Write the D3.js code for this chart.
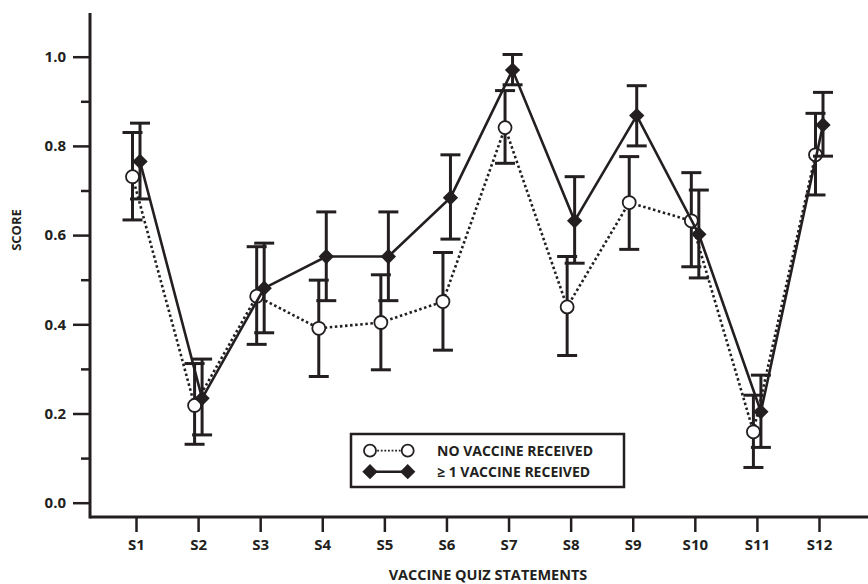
<!DOCTYPE html>
<html>
<head>
<meta charset="utf-8">
<script src="https://cdn.jsdelivr.net/npm/d3@7"></script>
<style>
  body { margin: 0; background: #fff; }
  svg text { font-family: "Open Sans", Lato, sans-serif; font-weight: bold; fill: #231f20; }
</style>
</head>
<body>
<svg id="chart" width="868" height="584"></svg>
<script>
// statements on the x axis
var statements = ["S1","S2","S3","S4","S5","S6","S7","S8","S9","S10","S11","S12"];

// no vaccine received: mean, lower and upper error
var noVacMean = [0.731, 0.218, 0.463, 0.391, 0.404, 0.451, 0.841, 0.439, 0.673, 0.632, 0.159, 0.780];
var noVacLow  = [0.634, 0.131, 0.355, 0.283, 0.298, 0.342, 0.761, 0.330, 0.568, 0.529, 0.079, 0.690];
var noVacHigh = [0.830, 0.312, 0.574, 0.499, 0.511, 0.561, 0.924, 0.552, 0.776, 0.740, 0.241, 0.873];

// >= 1 vaccine received
var vacMean = [0.765, 0.234, 0.481, 0.552, 0.552, 0.684, 0.970, 0.632, 0.868, 0.602, 0.204, 0.847];
var vacLow  = [0.681, 0.152, 0.381, 0.453, 0.453, 0.591, 0.937, 0.537, 0.800, 0.504, 0.124, 0.777];
var vacHigh = [0.851, 0.322, 0.582, 0.652, 0.652, 0.780, 1.005, 0.731, 0.935, 0.701, 0.286, 0.920];

var yTicks = [0, 0.2, 0.4, 0.6, 0.8, 1.0];
var yMinorTicks = [0.1, 0.3, 0.5, 0.7, 0.9];
var legendLabels = ["NO VACCINE RECEIVED", "\u2265 1 VACCINE RECEIVED"];

var ink = "#231f20";
var svg = d3.select("#chart");

var x = d3.scalePoint().domain(statements).range([136, 819]);
var y = d3.scaleLinear().domain([0, 1]).range([502.7, 56.7]);

var axisX0 = 90, axisY0 = 517;

// y axis
var gy = svg.append("g").attr("transform", "translate(" + axisX0 + ",0)");
gy.call(d3.axisLeft(y).tickValues(yTicks).tickFormat(d3.format(".1f")).tickSize(17).tickPadding(7));
gy.append("g").call(d3.axisLeft(y).tickValues(yMinorTicks).tickFormat("").tickSize(9));
gy.selectAll(".domain").remove();
gy.selectAll("line").attr("stroke", ink).attr("stroke-width", 2.5);
gy.selectAll("text").attr("font-size", 15).attr("font-family", null);
gy.append("line").attr("x1", 0).attr("x2", 0).attr("y1", 13).attr("y2", axisY0 + 1.5)
  .attr("stroke", ink).attr("stroke-width", 3);

// x axis
var gx = svg.append("g").attr("transform", "translate(0," + axisY0 + ")");
gx.call(d3.axisBottom(x).tickSize(15).tickPadding(7));
gx.selectAll(".domain").remove();
gx.selectAll("line").attr("stroke", ink).attr("stroke-width", 2.5);
gx.selectAll("text").attr("font-size", 15).attr("font-family", null);
gx.append("line").attr("x1", axisX0).attr("x2", 868).attr("y1", 0).attr("y2", 0)
  .attr("stroke", ink).attr("stroke-width", 3);

// axis titles
svg.append("text").attr("x", 488).attr("y", 580).attr("text-anchor", "middle")
  .attr("font-size", 14.5).text("VACCINE QUIZ STATEMENTS");
svg.append("text").attr("transform", "translate(21,230) rotate(-90)").attr("text-anchor", "middle")
  .attr("font-size", 13).text("SCORE");

var series = [
  { mean: noVacMean, low: noVacLow, high: noVacHigh, dx: -3.5, dash: "2.5,2.6", shape: "circle" },
  { mean: vacMean, low: vacLow, high: vacHigh, dx: 4, dash: null, shape: "diamond" }
];

var diamond = d3.symbol().type(d3.symbolDiamond2).size(150);

series.forEach(function(s) {
  var g = svg.append("g");
  var idx = d3.range(statements.length);
  var px = function(i) { return x(statements[i]) + s.dx; };

  // error bars
  var eb = g.selectAll(".eb").data(idx).enter().append("g").attr("stroke", ink).attr("stroke-width", 3);
  eb.append("line").attr("x1", px).attr("x2", px)
    .attr("y1", function(i) { return y(s.low[i]); }).attr("y2", function(i) { return y(s.high[i]); });
  eb.append("line").attr("x1", function(i) { return px(i) - 10; }).attr("x2", function(i) { return px(i) + 10; })
    .attr("y1", function(i) { return y(s.low[i]); }).attr("y2", function(i) { return y(s.low[i]); });
  eb.append("line").attr("x1", function(i) { return px(i) - 10; }).attr("x2", function(i) { return px(i) + 10; })
    .attr("y1", function(i) { return y(s.high[i]); }).attr("y2", function(i) { return y(s.high[i]); });

  // connecting line
  g.append("path").datum(idx)
    .attr("d", d3.line().x(px).y(function(i) { return y(s.mean[i]); }))
    .attr("fill", "none").attr("stroke", ink).attr("stroke-width", 2.6)
    .attr("stroke-dasharray", s.dash);

  // markers
  if (s.shape == "circle") {
    g.selectAll("circle").data(idx).enter().append("circle")
      .attr("cx", px).attr("cy", function(i) { return y(s.mean[i]); }).attr("r", 6.5)
      .attr("fill", "#fff").attr("stroke", ink).attr("stroke-width", 1.8);
  } else {
    g.selectAll(".dm").data(idx).enter().append("path")
      .attr("transform", function(i) { return "translate(" + px(i) + "," + y(s.mean[i]) + ")"; })
      .attr("d", diamond).attr("fill", ink);
  }
});

// legend
var lg = svg.append("g");
lg.append("rect").attr("x", 351).attr("y", 434).attr("width", 273).attr("height", 53)
  .attr("fill", "#fff").attr("stroke", ink).attr("stroke-width", 2.5);
[0, 1].forEach(function(k) {
  var ly = k == 0 ? 450.7 : 471.7;
  var s = series[k];
  lg.append("line").attr("x1", 370).attr("x2", 407.7).attr("y1", ly).attr("y2", ly)
    .attr("stroke", ink).attr("stroke-width", k == 0 ? 1.8 : 2.6).attr("stroke-dasharray", k == 0 ? "1.8,1.8" : null);
  [370, 407.7].forEach(function(lx) {
    if (s.shape == "circle") {
      lg.append("circle").attr("cx", lx).attr("cy", ly).attr("r", 6)
        .attr("fill", "#fff").attr("stroke", ink).attr("stroke-width", 1.8);
    } else {
      lg.append("path").attr("transform", "translate(" + lx + "," + ly + ")").attr("d", diamond).attr("fill", ink);
    }
  });
  lg.append("text").attr("x", 437).attr("y", ly + 5).attr("font-size", 14).text(legendLabels[k]);
});
</script>
</body>
</html>
